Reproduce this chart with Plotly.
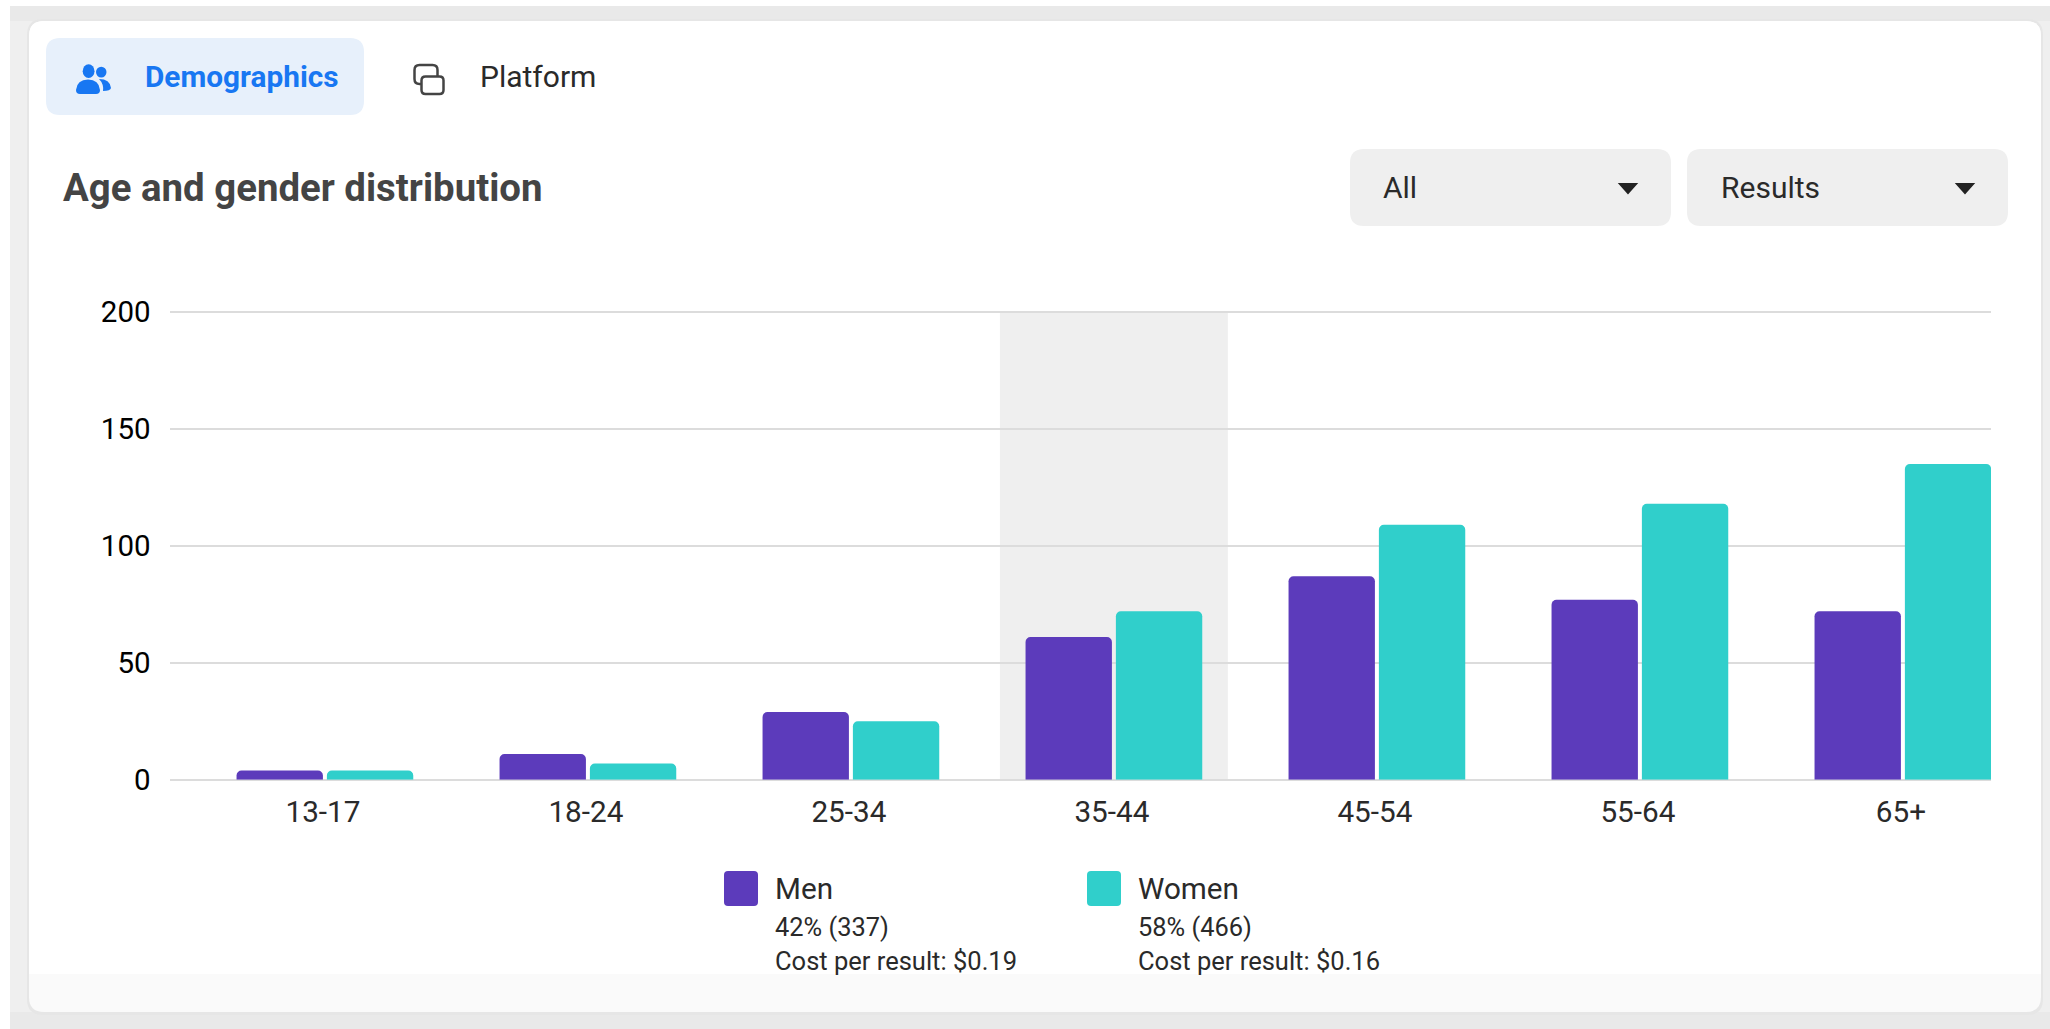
import plotly.graph_objects as go

ages = ["13-17", "18-24", "25-34", "35-44", "45-54", "55-64", "65+"]
men = [4, 11, 29, 61, 87, 77, 72]
women = [4, 7, 25, 72, 109, 118, 135]
y_ticks = [0, 50, 100, 150, 200]
series_names = ["Men", "Women"]
series_shares = ["42% (337)", "58% (466)"]
series_costs = ["Cost per result: $0.19", "Cost per result: $0.16"]
highlighted_age = "35-44"

W, H = 2050, 1029
PURPLE, TEAL = "#5c3bbb", "#30cfcb"
FONT = "Roboto"


def px(x):
    return x / W


def py(y):
    return 1 - y / H


def rrect_path(x0, y0, x1, y1, r):
    X0, X1, Y0, Y1 = px(x0), px(x1), py(y0), py(y1)
    rx, ry = r / W, r / H
    return (f"M{X0+rx},{Y0} L{X1-rx},{Y0} Q{X1},{Y0} {X1},{Y0-ry} L{X1},{Y1+ry} Q{X1},{Y1} {X1-rx},{Y1} "
            f"L{X0+rx},{Y1} Q{X0},{Y1} {X0},{Y1+ry} L{X0},{Y0-ry} Q{X0},{Y0} {X0+rx},{Y0} Z")


def rrect(x0, y0, x1, y1, r, fill, line=None, lw=0, layer="below"):
    return dict(type="path", xref="paper", yref="paper", path=rrect_path(x0, y0, x1, y1, r),
                fillcolor=fill, line=dict(color=line or "rgba(0,0,0,0)", width=lw), layer=layer)


def rect(x0, y0, x1, y1, fill, layer="below"):
    return dict(type="rect", xref="paper", yref="paper", x0=px(x0), x1=px(x1), y0=py(y0), y1=py(y1),
                fillcolor=fill, line=dict(width=0), layer=layer)


def ellipse(x0, y0, x1, y1, fill):
    return dict(type="circle", xref="paper", yref="paper", x0=px(x0), x1=px(x1), y0=py(y0), y1=py(y1),
                fillcolor=fill, line=dict(width=0), layer="above")


def poly(points, fill):
    d = "M" + " L".join(f"{px(x)},{py(y)}" for x, y in points) + " Z"
    return dict(type="path", xref="paper", yref="paper", path=d, fillcolor=fill,
                line=dict(color=fill, width=2), layer="above")


def label(x, y, text, size, color, bold=False, anchor="left"):
    return dict(xref="paper", yref="paper", x=px(x), y=py(y), text=f"<b>{text}</b>" if bold else text,
                showarrow=False, xanchor=anchor, yanchor="middle", align="left",
                font=dict(family=FONT, size=size, color=color))


fig = go.Figure()
fig.add_bar(x=ages, y=men, name=series_names[0], marker=dict(color=PURPLE, line=dict(width=0)))
fig.add_bar(x=ages, y=women, name=series_names[1], marker=dict(color=TEAL, line=dict(width=0)))

idx = ages.index(highlighted_age)
BLUE = "#1877f2"
shapes = [
    rect(0, 0, W, H, "#ffffff"),
    rect(10, 6, W, H, "#efefef"),
    rect(10, 6, W, 21, "#e9e9e9"),
    rect(10, 1012, W, H, "#e9e9e9"),
    rrect(27, 19, 2043, 1015, 16, "#e6e6e6"),
    rrect(29, 21, 2041, 1012, 15, "#fafafa"),
    dict(type="path", xref="paper", yref="paper", layer="below", fillcolor="#ffffff", line=dict(width=0),
         path=f"M{px(29)},{py(974)} L{px(29)},{py(36)} Q{px(29)},{py(21)} {px(44)},{py(21)} L{px(2026)},{py(21)} "
              f"Q{px(2041)},{py(21)} {px(2041)},{py(36)} L{px(2041)},{py(974)} Z"),
    rrect(46, 38, 364, 115, 14, "#e7f0fb"),
    rrect(1350, 149, 1671, 226, 14, "#efefef"),
    rrect(1687, 149, 2008, 226, 14, "#efefef"),
    # highlight band, translucent so that the gridline shows through
    dict(type="rect", xref="x", yref="y", x0=idx - 0.4335, x1=idx + 0.4335, y0=0, y1=200,
         fillcolor="rgba(0,0,0,0.063)", line=dict(width=0), layer="below"),
    # dropdown arrows
    poly([(1620, 184), (1636, 184), (1628, 193)], "#222222"),
    poly([(1957, 184), (1973, 184), (1965, 193)], "#222222"),
    # demographics icon
    ellipse(82.7, 64.3, 94.5, 78, BLUE),
    ellipse(96, 66.7, 106.5, 77.5, BLUE),
    dict(type="path", xref="paper", yref="paper", layer="above", fillcolor=BLUE, line=dict(width=0),
         path=f"M{px(80)},{py(94)} Q{px(76)},{py(94)} {px(76)},{py(90)} Q{px(77)},{py(79.5)} {px(88)},{py(79.5)} "
              f"Q{px(99)},{py(79.5)} {px(100)},{py(90)} Q{px(100)},{py(94)} {px(96)},{py(94)} Z"),
    dict(type="path", xref="paper", yref="paper", layer="above", fillcolor=BLUE, line=dict(width=0),
         path=f"M{px(99)},{py(79)} Q{px(110)},{py(79)} {px(111)},{py(88)} Q{px(110.5)},{py(91)} {px(103)},{py(91)} "
              f"Q{px(104)},{py(84)} {px(99)},{py(79)} Z"),
    # platform icon
    rrect(414.5, 65, 437.5, 84, 5, "rgba(0,0,0,0)", "#444444", 2.5, "above"),
    rrect(421.5, 76.5, 443.5, 94, 4, "#ffffff", "#444444", 2.5, "above"),
    # legend swatches
    rrect(724, 871, 758, 906, 4, PURPLE, layer="above"),
    rrect(1087, 871, 1121, 906, 4, TEAL, layer="above"),
]

annotations = [
    label(142.5, 77, "Demographics", 29.8, BLUE, bold=True),
    label(478, 77, "Platform", 30, "#2a2a2a"),
    label(61, 188, "Age and gender distribution", 38.4, "#444444", bold=True),
    label(1381, 188, "All", 30, "#2a2a2a"),
    label(1719, 188, "Results", 30, "#2a2a2a"),
]
for i, x in enumerate([772.5, 1135.5]):
    annotations += [
        label(x, 888, series_names[i], 29.7, "#2a2a2a"),
        label(x, 927, series_shares[i], 25.4, "#2a2a2a"),
        label(x, 961, series_costs[i], 25.5, "#2a2a2a"),
    ]

fig.update_layout(
    width=W, height=H, autosize=False, showlegend=False,
    margin=dict(l=0, r=0, t=0, b=0, autoexpand=False),
    paper_bgcolor="#ffffff", plot_bgcolor="rgba(0,0,0,0)",
    barmode="group", bargap=0.313, bargroupgap=0.044, barcornerradius=5,
    font=dict(family=FONT, color="#222222"),
    shapes=shapes, annotations=annotations,
    xaxis=dict(type="category", categoryorder="array", categoryarray=ages,
               domain=[px(170), px(1991)], range=[-0.589, 6.335],
               tickfont=dict(size=29.7, color="#2a2a2a"), ticks="outside", ticklen=6, tickcolor="rgba(0,0,0,0)",
               ticklabelshift=-2,
               showgrid=False, zeroline=False, showline=False, fixedrange=True),
    yaxis=dict(domain=[py(779.8), py(309.6)], range=[0, 201], tickvals=y_ticks,
               tickfont=dict(size=29.5, color="#000000"), ticks="outside", ticklen=12.5, tickcolor="rgba(0,0,0,0)",
               showgrid=True, gridcolor="#dcdcdc", gridwidth=2, zeroline=True, zerolinecolor="#dcdcdc",
               zerolinewidth=2, showline=False, fixedrange=True),
)

fig.write_html("out.html", config=dict(displayModeBar=False),
               post_script="document.body.style.margin='0';document.body.style.overflow='hidden';")
